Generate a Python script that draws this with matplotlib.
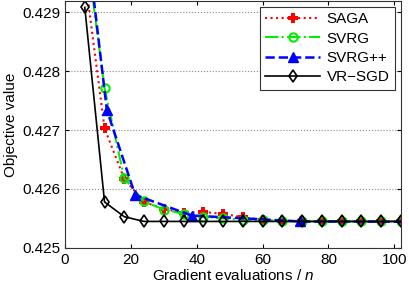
import matplotlib
matplotlib.use("Agg")
from matplotlib import pyplot as plt
import numpy as np

plt.rcParams['font.family'] = ['Liberation Sans', 'DejaVu Sans']
plt.rcParams['mathtext.fontset'] = 'custom'
plt.rcParams['mathtext.it'] = 'Liberation Sans:italic'

# evaluations / n (every epoch)
epochs = [6, 12, 18, 24, 30, 36, 42, 48, 54, 60, 66, 72, 78, 84, 90, 96, 102]
saga = [0.42962, 0.42703, 0.42617, 0.42578, 0.42566, 0.42560, 0.42561, 0.42558, 0.42552,
        0.42548, 0.42546, 0.42545, 0.42545, 0.42545, 0.42545, 0.42545, 0.42545]
svrg = [0.43026, 0.42771, 0.42618, 0.42579, 0.42565, 0.42558, 0.42553, 0.42550, 0.42548,
        0.42547, 0.42546, 0.42545, 0.42545, 0.42545, 0.42545, 0.42545, 0.42545]
vrsgd = [0.42908, 0.42578, 0.42553, 0.42545, 0.42545, 0.42545, 0.42545, 0.42545, 0.42545,
         0.42545, 0.42545, 0.42545, 0.42545, 0.42545, 0.42545, 0.42545, 0.42545]
# SVRG++ epochs double in length
svrgpp_x = [8.4, 12.7, 21.3, 38.5, 71.4, 140]
svrgpp = [0.42938, 0.42734, 0.42590, 0.42555, 0.42545, 0.42544]

fig = plt.figure(figsize=(4.09, 2.87), dpi=100)
ax = fig.add_axes([0.159, 0.136, 0.821, 0.861])

ax.plot(epochs, saga, color='red', linestyle=':', linewidth=1.5, marker='P',
        markersize=6.5, markeredgewidth=0, label='SAGA')
ax.plot(epochs, svrg, color='#00ee00', linestyle='-.', linewidth=1.5, marker='o',
        markersize=6, markerfacecolor='none', markeredgewidth=1.5, label='SVRG')
ax.plot(svrgpp_x, svrgpp, color='blue', linestyle='--', linewidth=1.8, marker='^',
        markersize=7, label='SVRG++')
ax.plot(epochs, vrsgd, color='black', linestyle='-', linewidth=1.2, marker='d',
        markersize=6, markerfacecolor='none', markeredgewidth=1.2, label='VR\u2212SGD')

ax.set_xlim(0, 102)
ax.set_ylim(0.425, 0.42919)
ax.set_xticks([0, 20, 40, 60, 80, 100])
ax.set_yticks([0.425, 0.426, 0.427, 0.428, 0.429])
ax.set_yticklabels(['0.425', '0.426', '0.427', '0.428', '0.429'])
ax.yaxis.grid(True, linestyle=':', color='#888888', linewidth=0.8)
ax.tick_params(direction='in', top=True, right=True, labelsize=11, length=3)
for s in ax.spines.values():
    s.set_color('#333333')
ax.set_xlabel('Gradient evaluations / $n$', fontsize=11, labelpad=1)
ax.set_ylabel('Objective value', fontsize=11, labelpad=3)

leg = ax.legend(loc='upper right', fontsize=11, fancybox=False, framealpha=1,
                edgecolor='#333333', handlelength=3.6, borderpad=0.35,
                labelspacing=0.35, handletextpad=0.4, borderaxespad=0.4)
leg.get_frame().set_linewidth(0.8)

fig.savefig('out.png', dpi=100)
